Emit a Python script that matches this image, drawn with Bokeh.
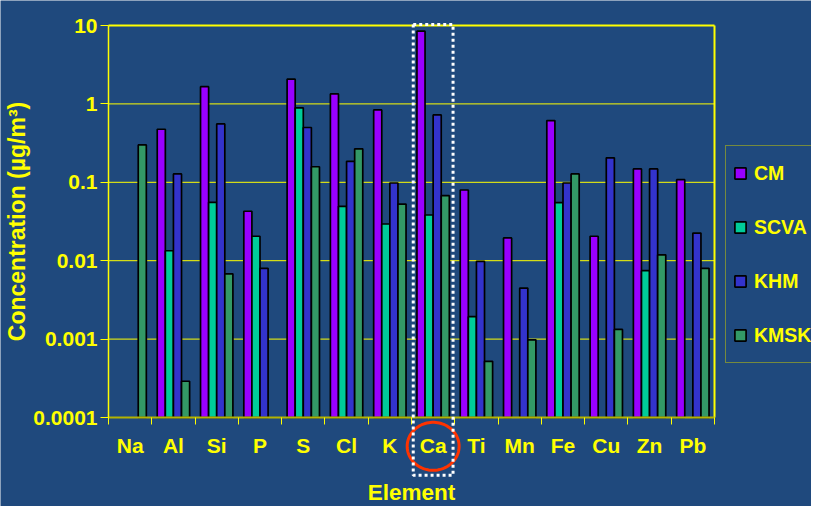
import numpy as np
from bokeh.plotting import figure
from bokeh.models import (ColumnDataSource, FixedTicker, Legend, LegendItem,
                          BoxAnnotation, PolyAnnotation, Range1d, Label)
from bokeh.embed import file_html
from bokeh.resources import INLINE

# ---- data ----
elements = ["Na", "Al", "Si", "P", "S", "Cl", "K", "Ca", "Ti", "Mn", "Fe", "Cu", "Zn", "Pb"]
series = ["CM", "SCVA", "KHM", "KMSK"]
cm   = [None, 0.475, 1.66, 0.0427, 2.07, 1.34, 0.837, 8.47, 0.0798, 0.0195, 0.612, 0.0205, 0.148, 0.108]
scva = [None, 0.0134, 0.0556, 0.0205, 0.89, 0.0494, 0.0294, 0.0383, 0.00193, None, 0.055, None, 0.00745, None]
khm  = [None, 0.128, 0.556, 0.008, 0.50, 0.185, 0.098, 0.724, 0.0098, 0.00448, 0.098, 0.205, 0.148, 0.0225]
kmsk = [0.30, 0.00029, 0.0068, None, 0.158, 0.267, 0.0528, 0.0676, 0.00052, 0.00098, 0.128, 0.00133, 0.0119, 0.008]
colors = ["#9900FF", "#00CC99", "#3333CC", "#339966"]
y_ticks = [0.0001, 0.001, 0.01, 0.1, 1, 10]
y_tick_labels = ["0.0001", "0.001", "0.01", "0.1", "1", "10"]
x_title = "Element"
y_title = "Concentration (µg/m³)"
highlight = "Ca"

BG = "#1F497D"
YEL = "#FFFF00"
FONT = "Liberation Sans"

# ---- layout (pixels) ----
W, H = 811, 506
PL, PR, PT, PB = 108, 97, 25, 89          # plot-area margins inside the figure
n = len(elements)
cat_px = (W - PL - PR) / n                 # pixels per category
dec_px = (H - PT - PB) / 5.0               # pixels per decade
ymin, ymax = y_ticks[0], y_ticks[-1]


def below(px):
    """data value lying px pixels below the 0.0001 line"""
    return ymin / 10 ** (px / dec_px)


x_range = Range1d(-PL / cat_px, n + PR / cat_px)
y_range = Range1d(below(PB), ymax * 10 ** (PT / dec_px))

p = figure(width=W, height=H, y_axis_type="log", x_range=x_range, y_range=y_range,
           output_backend="svg", toolbar_location=None, min_border=0)
p.background_fill_color = BG
p.border_fill_color = BG
p.outline_line_color = None

xc = np.arange(n) + 0.5
bw = 0.187
offsets = [-1.5, -0.5, 0.5, 1.5]

# gridlines (only over the plot area)
p.segment(x0=0, x1=n, y0=y_ticks[:-1], y1=y_ticks[:-1], line_color=YEL, line_width=1)

legend_items = []
for name, vals, col, off in zip(series, [cm, scva, khm, kmsk], colors, offsets):
    top = np.array([np.nan if v is None else v for v in vals], dtype=float)
    src = ColumnDataSource(dict(x=xc + off * bw, top=top))
    p.vbar(x="x", top="top", bottom=ymin, width=bw, source=src,
           fill_color=col, line_color="black", line_width=1.7)
    swatch = p.scatter(x=[np.nan], y=[np.nan], marker="square", fill_color=col,
                       line_color="black", line_width=1.7)
    legend_items.append(LegendItem(label=name, renderers=[swatch]))

# plot-area border: top and right
p.segment(x0=[0, n], y0=[ymax, ymin], x1=[n, n], y1=[ymax, ymax], line_color=YEL, line_width=2)

# axes
p.xaxis.fixed_location = ymin
p.xaxis.bounds = (0, n)
p.xaxis.ticker = FixedTicker(ticks=list(xc), minor_ticks=list(range(n + 1)))
p.xaxis.major_label_overrides = {float(x): e for x, e in zip(xc, elements)}
p.xaxis.major_tick_line_color = None
p.xaxis.major_tick_out = 7
p.xaxis.major_tick_in = 0
p.xaxis.minor_tick_line_color = YEL
p.xaxis.minor_tick_out = 7
p.xaxis.minor_tick_in = 0
p.xaxis.axis_line_color = "#B3B300"
p.xaxis.axis_line_width = 2
p.xaxis.major_label_standoff = 9

p.yaxis.fixed_location = 0
p.yaxis.bounds = (ymin, ymax)
p.yaxis.ticker = FixedTicker(ticks=y_ticks, minor_ticks=[])
p.yaxis.major_label_overrides = {float(t): s for t, s in zip(y_ticks, y_tick_labels)}
p.yaxis.major_tick_out = 8
p.yaxis.major_tick_in = 0
p.yaxis.major_tick_line_color = YEL
p.yaxis.minor_tick_line_color = None
p.yaxis.axis_line_color = YEL
p.yaxis.axis_line_width = 1.5
p.yaxis.major_label_standoff = 3

for ax in (p.xaxis[0], p.yaxis[0]):
    ax.major_label_text_color = YEL
    ax.major_label_text_font = FONT
    ax.major_label_text_font_style = "bold"
    ax.major_label_text_font_size = "21px"

p.xgrid.grid_line_color = None
p.ygrid.grid_line_color = None

# axis titles
p.add_layout(Label(x=n / 2, y=below(74.5), text=x_title,
                   text_align="center", text_baseline="middle",
                   text_color=YEL, text_font=FONT, text_font_style="bold", text_font_size="22.5px"))
p.add_layout(Label(x=-92 / cat_px, y=ymin * 10 ** (196 / dec_px), angle=np.pi / 2,
                   text=y_title, text_align="center", text_baseline="middle",
                   text_color=YEL, text_font=FONT, text_font_style="bold", text_font_size="23px"))

# highlight of the Ca group: red ellipse and white dotted box
ci = elements.index(highlight) + 0.5
t = np.linspace(0, 2 * np.pi, 91)
ell = PolyAnnotation(xs=list(ci + 0.6 * np.cos(t)),
                     ys=list(ymin * 10 ** ((-28.8 + 24 * np.sin(t)) / dec_px)),
                     fill_alpha=0, line_color="#FF3300", line_alpha=1, line_width=3)
p.add_layout(ell)
box = BoxAnnotation(left=ci - 0.46, right=ci + 0.46,
                    top=ymax * 10 ** (1 / dec_px), bottom=below(57.7),
                    fill_alpha=0, line_color="white", line_alpha=1,
                    line_width=3, line_dash="3 3")
p.add_layout(box)

legend = Legend(items=legend_items, location=(725, 143), margin=0, padding=0,
                spacing=0, glyph_width=28, glyph_height=54, label_height=54,
                label_standoff=0, label_width=90,
                label_text_color=YEL, label_text_font=FONT,
                label_text_font_style="bold", label_text_font_size="19.5px",
                background_fill_color=BG, background_fill_alpha=1,
                border_line_color="#CCCC00", border_line_width=1.5)
p.add_layout(legend)

open("out.html", "w").write(file_html(p, INLINE))
